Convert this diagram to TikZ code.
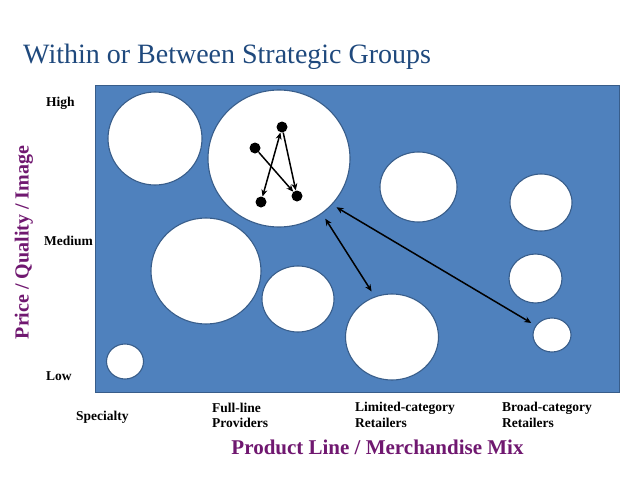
\documentclass[tikz,border=0pt]{standalone}
\usepackage{fontspec}
\setmainfont{Liberation Serif}
\usetikzlibrary{shapes.geometric,arrows.meta}
\definecolor{panel}{RGB}{79,129,189}
\definecolor{rim}{RGB}{56,93,138}
\definecolor{titleblue}{RGB}{31,73,125}
\definecolor{axispurple}{RGB}{112,24,112}
\begin{document}
\begin{tikzpicture}[x=1pt,y=-1pt,
  grp/.style={ellipse,draw=rim,fill=white,line width=1.1pt,inner sep=0pt},
  dot/.style={circle,fill=black,inner sep=0pt,minimum size=11pt},
  lab/.style={font=\bfseries\fontsize{13.5}{15.7}\selectfont,anchor=base west,inner sep=0pt,align=left},
  axislab/.style={font=\bfseries\fontsize{21}{24}\selectfont,text=axispurple,inner sep=0pt},
  link/.style={line width=1.5pt,-{Stealth[length=7pt,width=6pt]}},
  dlink/.style={line width=1.5pt,{Stealth[length=7pt,width=6pt]}-{Stealth[length=7pt,width=6pt]}}]
\useasboundingbox (0,0) rectangle (638,479);
% title
\node[anchor=base west,inner sep=0pt,text=titleblue,font=\fontsize{28}{32}\selectfont] (title) at (23,63.3) {Within or Between Strategic Groups};
% panel
\draw[fill=panel,draw=rim,line width=0.8pt] (95,85) rectangle (619,392);
% groups
\node[grp,minimum width=94pt,minimum height=93pt] (c1) at (155,138.5) {};
\node[grp,minimum width=142pt,minimum height=137pt] (c2) at (279,158.5) {};
\node[grp,minimum width=77pt,minimum height=70pt] (c3) at (418.5,187) {};
\node[grp,minimum width=62pt,minimum height=57pt] (c4) at (541,202.5) {};
\node[grp,minimum width=110pt,minimum height=106pt] (c5) at (206,271) {};
\node[grp,minimum width=72pt,minimum height=66pt] (c6) at (298,299) {};
\node[grp,minimum width=93pt,minimum height=86pt] (c7) at (392,337) {};
\node[grp,minimum width=53pt,minimum height=49pt] (c8) at (535.5,278.5) {};
\node[grp,minimum width=38pt,minimum height=34pt] (c9) at (552,335) {};
\node[grp,minimum width=37pt,minimum height=35pt] (c10) at (125,361.5) {};
% dots inside the big group
\node[dot] (A) at (282,127) {};
\node[dot] (B) at (255,148) {};
\node[dot] (C) at (261,202) {};
\node[dot] (D) at (297,196) {};
\draw[link] (B) -- (D);
\draw[dlink] (A) -- (C);
\draw[link] (A) -- (D);
% between-group arrows
\draw[dlink,shorten <=5pt,shorten >=5pt] (c2.-41) -- (c9.150);
\draw[dlink,shorten <=6pt,shorten >=6pt] (c2.-52) -- (c7.113.5);
% y-axis levels
\node[lab] (high) at (46,106.7) {High};
\node[lab] (medium) at (44,245.7) {Medium};
\node[lab] (low) at (46,380) {Low};
% x-axis categories (base = baseline of the last line)
\node[lab] (spec) at (76,420.7) {Specialty};
\node[lab] (full) at (212,427.7) {Full-line\\Providers};
\node[lab] (limited) at (355,427.4) {Limited-category\\Retailers};
\node[lab] (broad) at (502,427.4) {Broad-category\\Retailers};
% axis titles
\node[axislab,anchor=base] (xaxis) at (377.5,454) {Product Line / Merchandise Mix};
\node[axislab,rotate=90,font=\bfseries\fontsize{20}{24}\selectfont] (yaxis) at (24,242.5) {Price / Quality / Image};
\end{tikzpicture}
\end{document}
